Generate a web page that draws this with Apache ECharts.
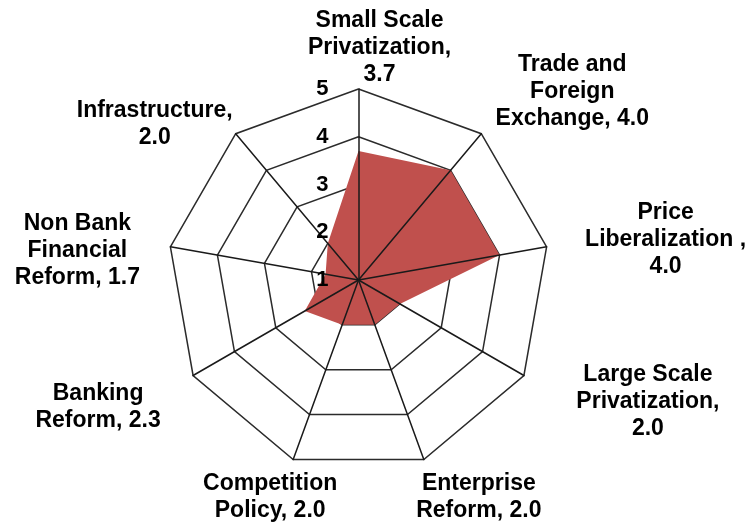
<!DOCTYPE html>
<html>
<head>
<meta charset="utf-8">
<script src="https://cdn.jsdelivr.net/npm/echarts@6/dist/echarts.min.js"></script>
<style>
  html, body { margin: 0; padding: 0; background: #fff; }
  #chart { width: 753px; height: 528px; }
</style>
</head>
<body>
<div id="chart"></div>
<script>
// categories clockwise from the top, value is appended to each label
const categories = [
  'Small Scale\nPrivatization,\n',
  'Trade and\nForeign\nExchange, ',
  'Price\nLiberalization ,\n',
  'Large Scale\nPrivatization,\n',
  'Enterprise\nReform, ',
  'Competition\nPolicy, ',
  'Banking\nReform, ',
  'Non Bank\nFinancial\nReform, ',
  'Infrastructure,\n'
];
const scores = [3.7, 4.0, 4.0, 2.0, 2.0, 2.0, 2.3, 1.7, 2.0];
const scaleMin = 1;
const scaleMax = 5;

// where each label's centre sits relative to its axis end (px)
const nameOffsets = [
  [21, -41], [91, -42], [119, -7], [124, 26], [55, 38],
  [-23, 38], [-95, 32], [-93, 4], [-81, -10]
];

// echarts lays indicators out counter-clockwise
const order = [0, 8, 7, 6, 5, 4, 3, 2, 1];
const font = '"Liberation Sans", Arial, sans-serif';

// turn a wanted offset into nameGap (along the spoke) + horizontal padding
function nameLayout(i) {
  const a = (90 - 360 / categories.length * i) * Math.PI / 180;
  const dx = nameOffsets[i][0], dy = nameOffsets[i][1];
  const gap = -dy / Math.sin(a);
  const px = dx - gap * Math.cos(a);
  return { gap: gap, padding: [0, Math.max(0, -2 * px), 0, Math.max(0, 2 * px)] };
}

const indicators = order.map(i => {
  const lay = nameLayout(i);
  return {
    name: categories[i] + scores[i].toFixed(1),
    min: scaleMin,
    max: scaleMax,
    nameGap: lay.gap,
    nameTextStyle: { align: 'center', verticalAlign: 'middle', padding: lay.padding }
  };
});

const common = {
  center: [358.5, 280],
  radius: 191,
  shape: 'polygon',
  startAngle: 90,
  splitNumber: 4
};

const chart = echarts.init(document.getElementById('chart'));
chart.setOption({
  animation: false,
  radar: [
    Object.assign({}, common, {
      z: 1,
      indicator: indicators,
      axisName: { color: '#000', fontSize: 23, fontWeight: 'bold', fontFamily: font, lineHeight: 27 },
      axisLine: { show: false },
      axisTick: { show: false },
      axisLabel: { show: false },
      splitLine: { lineStyle: { color: '#2b2b2b', width: 1.5 } },
      splitArea: { show: false }
    }),
    // second copy draws the spokes and the scale, above the filled area
    Object.assign({}, common, {
      z: 3,
      indicator: order.map((i, k) => ({
        name: '', min: scaleMin, max: scaleMax,
        axisLabel: { show: k === 0 }
      })),
      axisName: { show: false },
      axisLine: { lineStyle: { color: '#1a1a1a', width: 1.5 } },
      axisTick: { show: false },
      axisLabel: { show: false, color: '#000', fontSize: 22, fontWeight: 'bold', fontFamily: font, margin: 30 },
      splitLine: { show: false },
      splitArea: { show: false }
    })
  ],
  series: [{
    type: 'radar',
    radarIndex: 0,
    z: 2,
    symbol: 'none',
    lineStyle: { width: 0 },
    areaStyle: { color: '#C0504D', opacity: 1 },
    data: [{ value: order.map(i => scores[i]) }]
  }]
});
</script>
</body>
</html>
